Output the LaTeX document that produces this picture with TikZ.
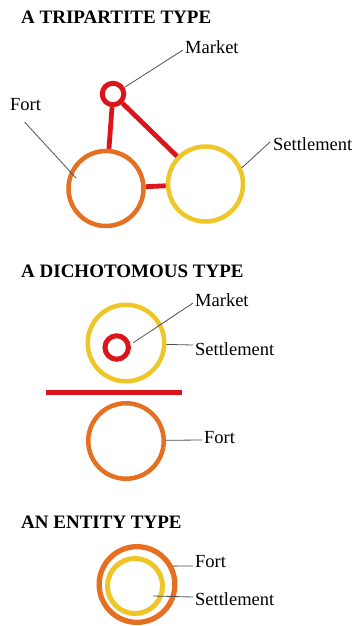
\documentclass[tikz,border=0pt]{standalone}
\usepackage{fontspec}
\setmainfont{Liberation Serif}
\usetikzlibrary{backgrounds}
\definecolor{mred}{RGB}{218,22,28}
\definecolor{forange}{RGB}{229,112,34}
\definecolor{syellow}{RGB}{238,198,40}
\definecolor{leadgray}{RGB}{80,80,80}
\begin{document}
\begin{tikzpicture}[x=1pt,y=-1pt,
  ring/.style={circle, draw=#1, line width=4.5pt, inner sep=0pt, fill=none},
  link/.style={draw=mred, line width=4.8pt},
  leader/.style={draw=leadgray, line width=0.8pt},
  title/.style={anchor=west, inner sep=0pt, font=\bfseries\fontsize{19}{22}\selectfont},
  lab/.style={anchor=west, inner sep=0pt, font=\fontsize{18.5}{22}\selectfont}]
\useasboundingbox (0,0) rectangle (358,626);

% ---------- A TRIPARTITE TYPE ----------
\node[title] (t1) at (21,17) {A TRIPARTITE TYPE};
\node[ring=mred, line width=5pt, minimum size=21.5pt] (m1) at (113,94) {};
\node[ring=forange, minimum size=75pt] (f1) at (106,188.5) {};
\node[ring=syellow, minimum size=75pt] (s1) at (205.5,184) {};
\node[lab] (mlab1) at (185,47) {Market};
\node[lab] (flab1) at (10,105) {Fort};
\node[lab] (slab1) at (273,144) {Settlement};
\begin{scope}[on background layer]
  \draw[link] (m1) -- (f1);
  \draw[link] (m1) -- (s1);
  \draw[link] (f1) -- (s1);
\end{scope}
\draw[leader] (m1.30) -- ([shift={(-2,3)}]mlab1.west);
\draw[leader] ([shift={(-30,-10.5)}]f1.center) -- ([shift={(-1,10.7)}]flab1.south);
\draw[leader] (s1.24) -- ([shift={(-3,-2)}]slab1.west);

% ---------- A DICHOTOMOUS TYPE ----------
\node[title] (t2) at (21,271) {A DICHOTOMOUS TYPE};
\node[ring=syellow, minimum size=76.5pt] (s2) at (126,343) {};
\node[ring=mred, line width=5pt, minimum size=23.5pt] (m2) at (116.7,347.5) {};
\coordinate (barl) at (46,392.5);
\coordinate (barr) at (182,392.5);
\draw[draw=mred, line width=5pt] (barl) -- (barr);
\node[ring=forange, minimum size=75.5pt] (f2) at (126,441) {};
\node[lab] (mlab2) at (195,300) {Market};
\node[lab] (slab2) at (195,349) {Settlement};
\node[lab] (flab2) at (204,438) {Fort};
\draw[leader] ([shift={(16.6,-4.8)}]m2.center) -- ([shift={(-2,3)}]mlab2.west);
\draw[leader] (s2.-2) -- ([shift={(-2,-4)}]slab2.west);
\draw[leader] (f2.1) -- ([shift={(-2,2)}]flab2.west);

% ---------- AN ENTITY TYPE ----------
\node[title] (t3) at (21,522) {AN ENTITY TYPE};
\node[ring=forange, line width=5.3pt, minimum size=75.7pt] (f3) at (137,584.5) {};
\node[ring=syellow, line width=5pt, minimum size=55pt] (s3) at (135,586) {};
\node[lab] (flab3) at (195,562) {Fort};
\node[lab] (slab3) at (195,599) {Settlement};
\draw[leader] (f3.27) -- ([shift={(-2,4)}]flab3.west);
\draw[leader] ([shift={(18,10)}]s3.center) -- ([shift={(-2,-2)}]slab3.west);
\end{tikzpicture}
\end{document}
